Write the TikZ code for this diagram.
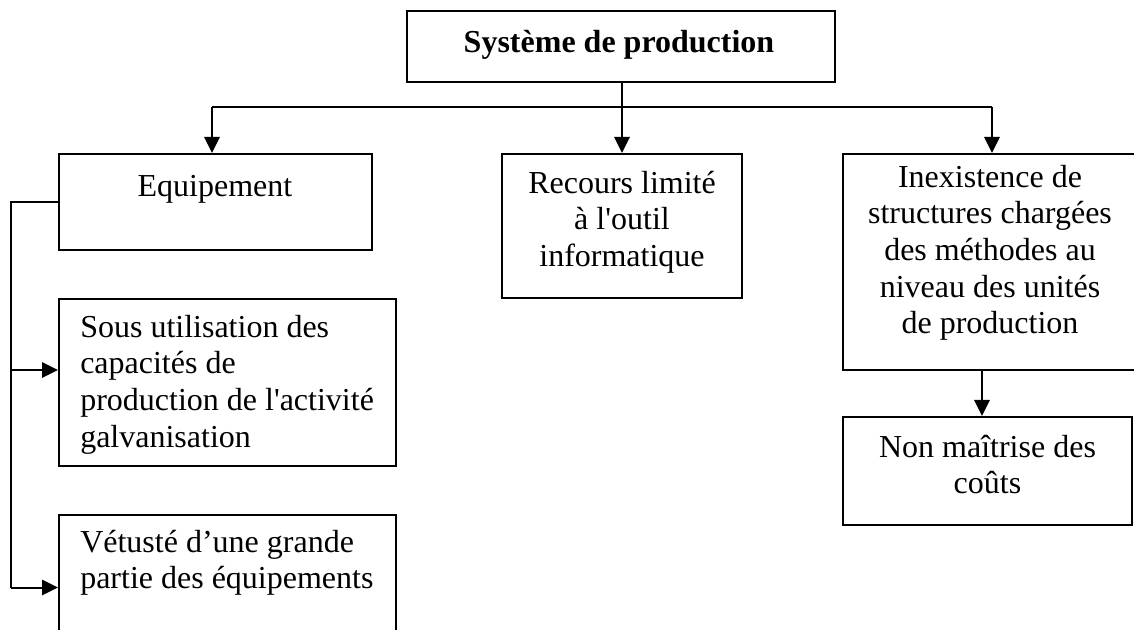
\documentclass[tikz,border=0pt]{standalone}
\usepackage{fontspec}
\setmainfont{Liberation Serif}
\usetikzlibrary{arrows.meta}

\begin{document}
\begin{tikzpicture}[x=0.75pt, y=-0.75pt,
  box/.style={draw, line width=1.5pt, rectangle, inner sep=0pt},
  lbl/.style={inner sep=0pt, font=\fontsize{24}{27.5}\selectfont},
  lblc/.style={lbl, align=center, anchor=north},
  lbll/.style={lbl, align=left, anchor=north west},
  link/.style={line width=1.5pt},
  arr/.style={link, -{Triangle[length=12pt, width=11.5pt]}}]

\useasboundingbox (0,0) rectangle (1134,630);
\clip (0,0) rectangle (1134,630);

% boxes
\node[box, minimum width=321pt, minimum height=53.25pt] (top) at (621,46.5) {};
\node[box, minimum width=234.75pt, minimum height=72pt] (eq) at (215.5,202) {};
\node[box, minimum width=180pt, minimum height=108pt] (rec) at (622,226) {};
\node[box, minimum width=232.5pt, minimum height=162pt] (inex) at (998,262) {};
\node[box, minimum width=216.75pt, minimum height=81pt] (non) at (987.5,471) {};
\node[box, minimum width=252.75pt, minimum height=125.25pt] (sous) at (227.5,382.5) {};
\node[box, minimum width=252.75pt, minimum height=108.75pt] (vet) at (227.5,587.5) {};

% texts
\node[lblc, font=\fontsize{24}{27.5}\selectfont\bfseries] (top-t) at (619,26.3)
  {\strut Système de production};
\node[lblc] (eq-t) at (215,170.3) {\strut Equipement};
\node[lblc] (rec-t) at (622,167.3)
  {\strut Recours limité\\à l\textquotesingle outil\\informatique};
\node[lblc] (inex-t) at (990,161.3)
  {\strut Inexistence de\\structures chargées\\des méthodes au\\niveau des unités\\de production};
\node[lblc] (non-t) at (987.5,431.3) {\strut Non maîtrise des\\coûts};
\node[lbll] (sous-t) at (80,311.3)
  {\strut Sous utilisation des\\capacités de\\production de l\textquotesingle activité\\galvanisation};
\node[lbll] (vet-t) at (80,526.3)
  {\strut Vétusté d’une grande\\partie des équipements};

% connectors from the top box
\coordinate (jl) at (212,107);
\coordinate (jr) at (992,107);
\draw[link] (jl) -- (jr);
\draw[arr] (top.south -| rec.north) -- (rec.north);
\draw[arr] (jl) -- (jl |- eq.north);
\draw[arr] (jr) -- (jr |- inex.north);

% equipment branch
\coordinate (s1) at (11,370);
\coordinate (s2) at (11,587.5);
\draw[link] (eq.west) -- (eq.west -| s1) -- (s2);
\draw[arr] (s1) -- (s1 -| sous.west);
\draw[arr] (s2) -- (s2 -| vet.west);

% right branch
\coordinate (d) at (982,370);
\draw[arr] (d) -- (d |- non.north);

\end{tikzpicture}
\end{document}
